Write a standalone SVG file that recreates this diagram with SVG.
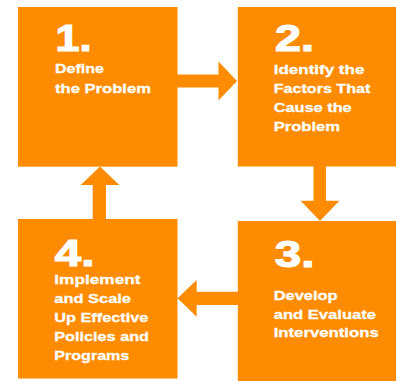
<svg xmlns="http://www.w3.org/2000/svg" width="396" height="381" viewBox="0 0 396 381">
<style>
.box{fill:#FF8C00}
.arr{fill:#FF8C00}
.num{font-family:"Liberation Sans",Arial,sans-serif;font-weight:700;font-size:37px;fill:#fff;stroke:#fff;stroke-width:1.2}
.lbl{font-family:"Liberation Sans",Arial,sans-serif;font-weight:700;font-size:13.5px;fill:#fff;stroke:#fff;stroke-width:0.3}
</style>
<rect width="396" height="381" fill="#fff"/>
<g id="connectors">
<path class="arr" d="M177 74.5H218.5V61.5L237 81L218.5 100.5V87.5H177Z"/>
<path class="arr" d="M313.5 166H326V200.7H339.3L320 221L300.7 200.7H313.5Z"/>
<path class="arr" d="M238 291.7V305H196.7V316.7L177.5 298.3L196.7 280V291.7Z"/>
<path class="arr" d="M92.7 219V185H80.7L100 166.5L119.3 185H106V219Z"/>
</g>
<g id="node1">
<rect class="box" x="18" y="7" width="159.5" height="159.7"/>
<text class="num" x="55.5" y="51" textLength="36" lengthAdjust="spacingAndGlyphs">1.</text>
<text class="lbl" x="55" y="73.3" textLength="49" lengthAdjust="spacingAndGlyphs">Define</text>
<text class="lbl" x="55" y="92.7" textLength="96" lengthAdjust="spacingAndGlyphs">the Problem</text>
</g>
<g id="node2">
<rect class="box" x="237.8" y="7" width="160" height="159.5"/>
<text class="num" x="275" y="51" textLength="39" lengthAdjust="spacingAndGlyphs">2.</text>
<text class="lbl" x="273.7" y="73.5" textLength="90.7" lengthAdjust="spacingAndGlyphs">Identify the</text>
<text class="lbl" x="273.7" y="92.5" textLength="96.7" lengthAdjust="spacingAndGlyphs">Factors That</text>
<text class="lbl" x="273.7" y="111.5" textLength="78" lengthAdjust="spacingAndGlyphs">Cause the</text>
<text class="lbl" x="273.7" y="130.5" textLength="66.3" lengthAdjust="spacingAndGlyphs">Problem</text>
</g>
<g id="node3">
<rect class="box" x="237.8" y="221" width="160" height="160"/>
<text class="num" x="274.8" y="267" textLength="39.5" lengthAdjust="spacingAndGlyphs">3.</text>
<text class="lbl" x="273.7" y="300" textLength="64" lengthAdjust="spacingAndGlyphs">Develop</text>
<text class="lbl" x="273.7" y="318.7" textLength="102.3" lengthAdjust="spacingAndGlyphs">and Evaluate</text>
<text class="lbl" x="273.7" y="337.3" textLength="105" lengthAdjust="spacingAndGlyphs">Interventions</text>
</g>
<g id="node4">
<rect class="box" x="18" y="219" width="159.5" height="159.5"/>
<text class="num" x="54.8" y="266" textLength="39.5" lengthAdjust="spacingAndGlyphs">4.</text>
<text class="lbl" x="54.3" y="284.3" textLength="86.3" lengthAdjust="spacingAndGlyphs">Implement</text>
<text class="lbl" x="54.3" y="303.3" textLength="76.7" lengthAdjust="spacingAndGlyphs">and Scale</text>
<text class="lbl" x="54.3" y="322.3" textLength="94" lengthAdjust="spacingAndGlyphs">Up Effective</text>
<text class="lbl" x="54.3" y="341.3" textLength="94.7" lengthAdjust="spacingAndGlyphs">Policies and</text>
<text class="lbl" x="54.3" y="360.3" textLength="75" lengthAdjust="spacingAndGlyphs">Programs</text>
</g>
</svg>
